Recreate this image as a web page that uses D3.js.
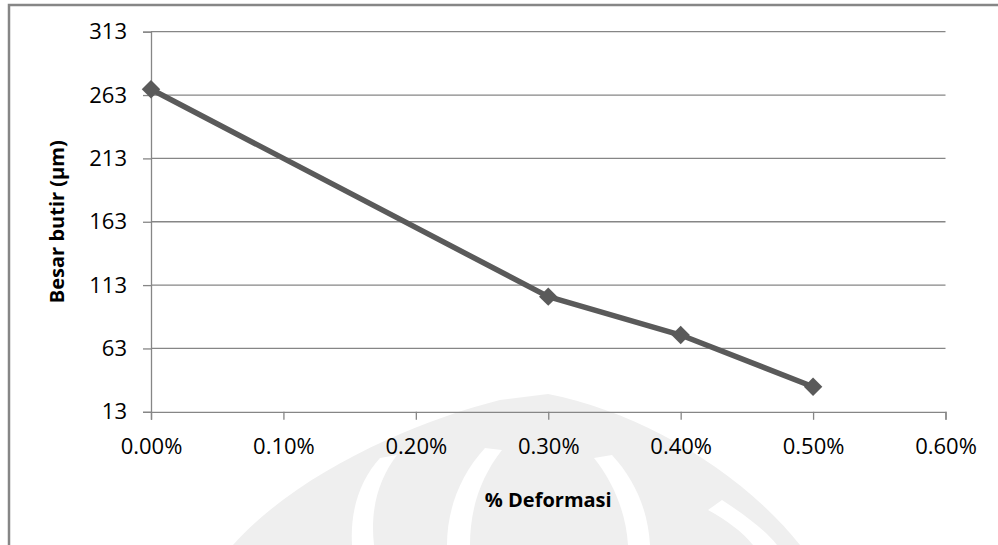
<!DOCTYPE html>
<html>
<head>
<meta charset="utf-8">
<script src="https://cdn.jsdelivr.net/npm/d3@7/dist/d3.min.js"></script>
<style>
  html, body { margin: 0; padding: 0; background: #fff; }
  svg { display: block; }
  text { font-family: "Open Sans", "DejaVu Sans", sans-serif; fill: #000; }
</style>
</head>
<body>
<svg id="chart" width="998" height="545"></svg>
<script>
// ---- data ----
const deformasi = [0.000, 0.003, 0.004, 0.005];        // % Deformasi (fraction)
const besarButir = [267.6, 103.9, 73.6, 32.8];          // Besar butir (µm)
const xTicks = [0, 0.001, 0.002, 0.003, 0.004, 0.005, 0.006];
const yTicks = [13, 63, 113, 163, 213, 263, 313];
const xTitle = "% Deformasi";
const yTitle = "Besar butir (µm)";

const svg = d3.select("#chart");
const W = 998, H = 545;

// faint watermark (background decoration)
const wm = svg.append("g");
wm.append("path")
  .attr("d", "M233,545 C300,470 420,420 500,400 L548,394 C640,412 740,470 800,545 Z")
  .attr("fill", "#efefef");
const gapPaths = [
  "M380,458 C360,480 350,510 352,545 L374,545 C370,510 378,480 397,455 Z",
  "M485,448 C460,475 447,510 447,545 L470,545 C470,510 480,478 502,450 Z",
  "M612,455 C635,480 648,510 650,545 L628,545 C626,512 613,482 594,458 Z",
  "M722,500 C745,515 765,530 777,545 L753,545 C743,532 726,520 708,510 Z"
];
wm.selectAll("path.gap").data(gapPaths).enter().append("path")
  .attr("class", "gap").attr("d", d => d).attr("fill", "#fff");

// outer border (only top and left visible)
svg.append("path")
  .attr("d", `M9,${H} L9,5 L${W},5`)
  .attr("fill", "none").attr("stroke", "#868686").attr("stroke-width", 2.5);

const x = d3.scaleLinear().domain([0, 0.006]).range([151, 945.5]);
const y = d3.scaleLinear().domain([13, 313]).range([411.8, 31.7]);

// gridlines
svg.append("g").selectAll("line").data(yTicks.filter(t => t !== 13)).enter().append("line")
  .attr("x1", x(0)).attr("x2", x(0.006))
  .attr("y1", d => y(d)).attr("y2", d => y(d))
  .attr("stroke", "#868686").attr("stroke-width", 1.3);

// y axis
const yAxis = d3.axisLeft(y).tickValues(yTicks).tickSize(8).tickPadding(16).tickFormat(d3.format("d"));
const gy = svg.append("g").attr("transform", `translate(${x(0)},0)`).call(yAxis);
gy.select(".domain").attr("stroke", "#868686").attr("stroke-width", 1.3);
gy.selectAll(".tick line").attr("stroke", "#868686").attr("stroke-width", 1.3);
gy.selectAll(".tick text").attr("font-size", 22).attr("font-family", "Open Sans").attr("fill", "#000");

// x axis
const xAxis = d3.axisBottom(x).tickValues(xTicks).tickSize(8).tickPadding(19).tickFormat(d3.format(".2%"));
const gx = svg.append("g").attr("transform", `translate(0,${y(13)})`).call(xAxis);
gx.select(".domain").attr("stroke", "#868686").attr("stroke-width", 1.3);
gx.selectAll(".tick line").attr("stroke", "#868686").attr("stroke-width", 1.3);
gx.selectAll(".tick text").attr("font-size", 22).attr("font-family", "Open Sans").attr("fill", "#000");

// axis titles
svg.append("text").attr("x", (x(0) + x(0.006)) / 2).attr("y", 507)
  .attr("text-anchor", "middle").attr("font-size", 20).attr("font-weight", "bold").text(xTitle);
svg.append("text")
  .attr("transform", `translate(64,${(y(13) + y(313)) / 2}) rotate(-90)`)
  .attr("text-anchor", "middle").attr("font-size", 20).attr("font-weight", "bold").text(yTitle);

// series
const pts = deformasi.map((d, i) => [d, besarButir[i]]);
svg.append("path").datum(pts)
  .attr("d", d3.line().x(d => x(d[0])).y(d => y(d[1])))
  .attr("fill", "none").attr("stroke", "#5a5a5a").attr("stroke-width", 5.5).attr("stroke-linejoin", "round");

svg.append("g").selectAll("path").data(pts).enter().append("path")
  .attr("d", d3.symbol(d3.symbolSquare, 170))
  .attr("transform", d => `translate(${x(d[0])},${y(d[1])}) rotate(45)`)
  .attr("fill", "#5a5a5a");
</script>
</body>
</html>
